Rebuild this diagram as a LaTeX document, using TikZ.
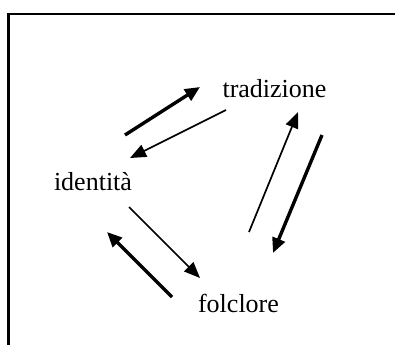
\documentclass[tikz,border=0pt]{standalone}
\usepackage{fontspec}
\setmainfont{Liberation Serif}
\usetikzlibrary{arrows.meta}

\tikzset{
  concept/.style={inner sep=0pt, anchor=base, font=\fontsize{26}{30}\selectfont},
  thin arrow/.style={line width=1.7pt, -{Triangle[length=16pt,width=13pt]}},
  thick arrow/.style={line width=3.4pt, -{Triangle[length=15pt,width=13pt]}}
}

\begin{document}
\begin{tikzpicture}[x=1pt,y=-1pt]
  \useasboundingbox (0,0) rectangle (395,345);

  % open frame: top and left edges only
  \draw[line width=2.2pt] (395,14) -- (8.5,14) -- (8.5,345);

  % the three concepts
  \node[concept] (trad) at (274.5,97) {tradizione};
  \node[concept] (iden) at (93,190) {identità};
  \node[concept] (folc) at (238.5,312) {folclore};

  % arrow ends
  \coordinate (it1) at (125,135);   \coordinate (it2) at (200,87);
  \coordinate (ti1) at (226,110);   \coordinate (ti2) at (130,158);
  \coordinate (ft1) at (249,232);   \coordinate (ft2) at (298,112);
  \coordinate (tf1) at (322,135);   \coordinate (tf2) at (273,253);
  \coordinate (if1) at (129,207);   \coordinate (if2) at (200,278);
  \coordinate (fi1) at (172,297);   \coordinate (fi2) at (107,232);

  % arrows between the concepts
  \draw[thick arrow] (it1) -- (it2);
  \draw[thin arrow]  (ti1) -- (ti2);
  \draw[thin arrow]  (ft1) -- (ft2);
  \draw[thick arrow] (tf1) -- (tf2);
  \draw[thin arrow]  (if1) -- (if2);
  \draw[thick arrow] (fi1) -- (fi2);
\end{tikzpicture}
\end{document}
